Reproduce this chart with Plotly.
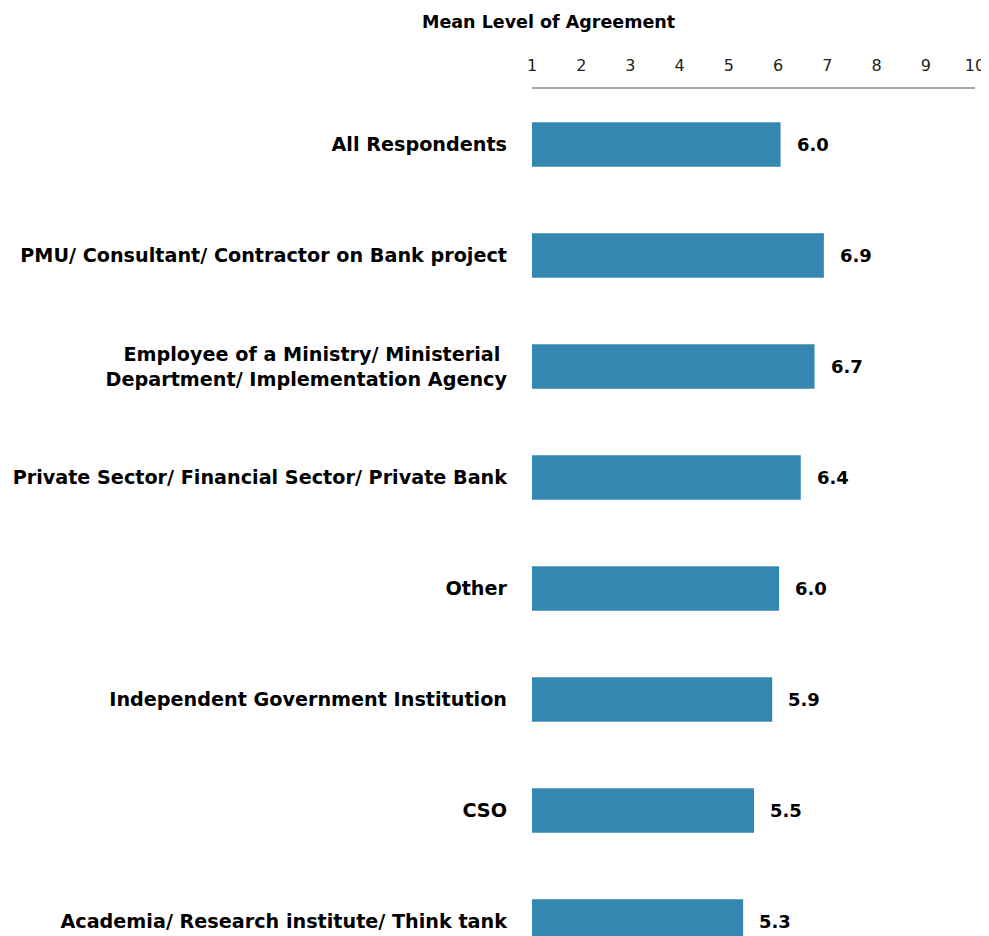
import plotly.graph_objects as go

categories = [
    "All Respondents",
    "PMU/ Consultant/ Contractor on Bank project",
    "Employee of a Ministry/ Ministerial <br>Department/ Implementation Agency",
    "Private Sector/ Financial Sector/ Private Bank",
    "Other",
    "Independent Government Institution",
    "CSO",
    "Academia/ Research institute/ Think tank",
]
values = [6.05, 6.93, 6.74, 6.46, 6.02, 5.88, 5.51, 5.29]
value_labels = ["6.0", "6.9", "6.7", "6.4", "6.0", "5.9", "5.5", "5.3"]
x_ticks = [1, 2, 3, 4, 5, 6, 7, 8, 9, 10]

FONT = "DejaVu Sans"

W, H = 981, 928
L, R, T, B = 524, 14, 81, 0
ROW = 111.0
pw = W - L - R
ph = H - T - B

fig = go.Figure()
fig.add_trace(go.Bar(
    y=categories,
    x=values,
    orientation="h",
    width=0.4,
    marker=dict(color="#3587B2", line=dict(width=0)),
    hoverinfo="skip",
))

for c, v, t in zip(categories, values, value_labels):
    fig.add_annotation(
        x=v, y=c, xref="x", yref="y", text="<b>%s</b>" % t,
        showarrow=False, xanchor="left", xshift=14,
        font=dict(family=FONT, size=18, color="#000000"),
    )

fig.add_annotation(
    x=(548 - 8 - L) / pw, y=1 + (81 - 14) / ph, xref="paper", yref="paper",
    text="<b>Mean Level of Agreement</b>",
    showarrow=False, xanchor="center", yanchor="middle",
    font=dict(family=FONT, size=17.5, color="#000000"),
)

fig.update_layout(
    width=W, height=H,
    margin=dict(l=L, r=R, t=T, b=B, autoexpand=False),
    paper_bgcolor="white", plot_bgcolor="white",
    showlegend=False,
    xaxis=dict(
        side="top", range=[1, 10], tickmode="array", tickvals=x_ticks,
        showgrid=False, zeroline=False, automargin=False,
        showline=True, linecolor="#A6A6A6", linewidth=2,
        ticks="outside", ticklen=10, tickcolor="rgba(0,0,0,0)",
        ticklabeloverflow="allow",
        tickfont=dict(family=FONT, size=16, color="#222222"),
        fixedrange=True,
    ),
    yaxis=dict(
        range=[-0.5 + ph / ROW, -0.5], showgrid=False, zeroline=False, showline=False,
        ticks="", ticklabelstandoff=24, automargin=False,
        tickfont=dict(family=FONT, size=19.2, color="#000000"),
        tickprefix="<b>", ticksuffix="</b>",
        fixedrange=True,
    ),
)

fig.write_html("out.html")
